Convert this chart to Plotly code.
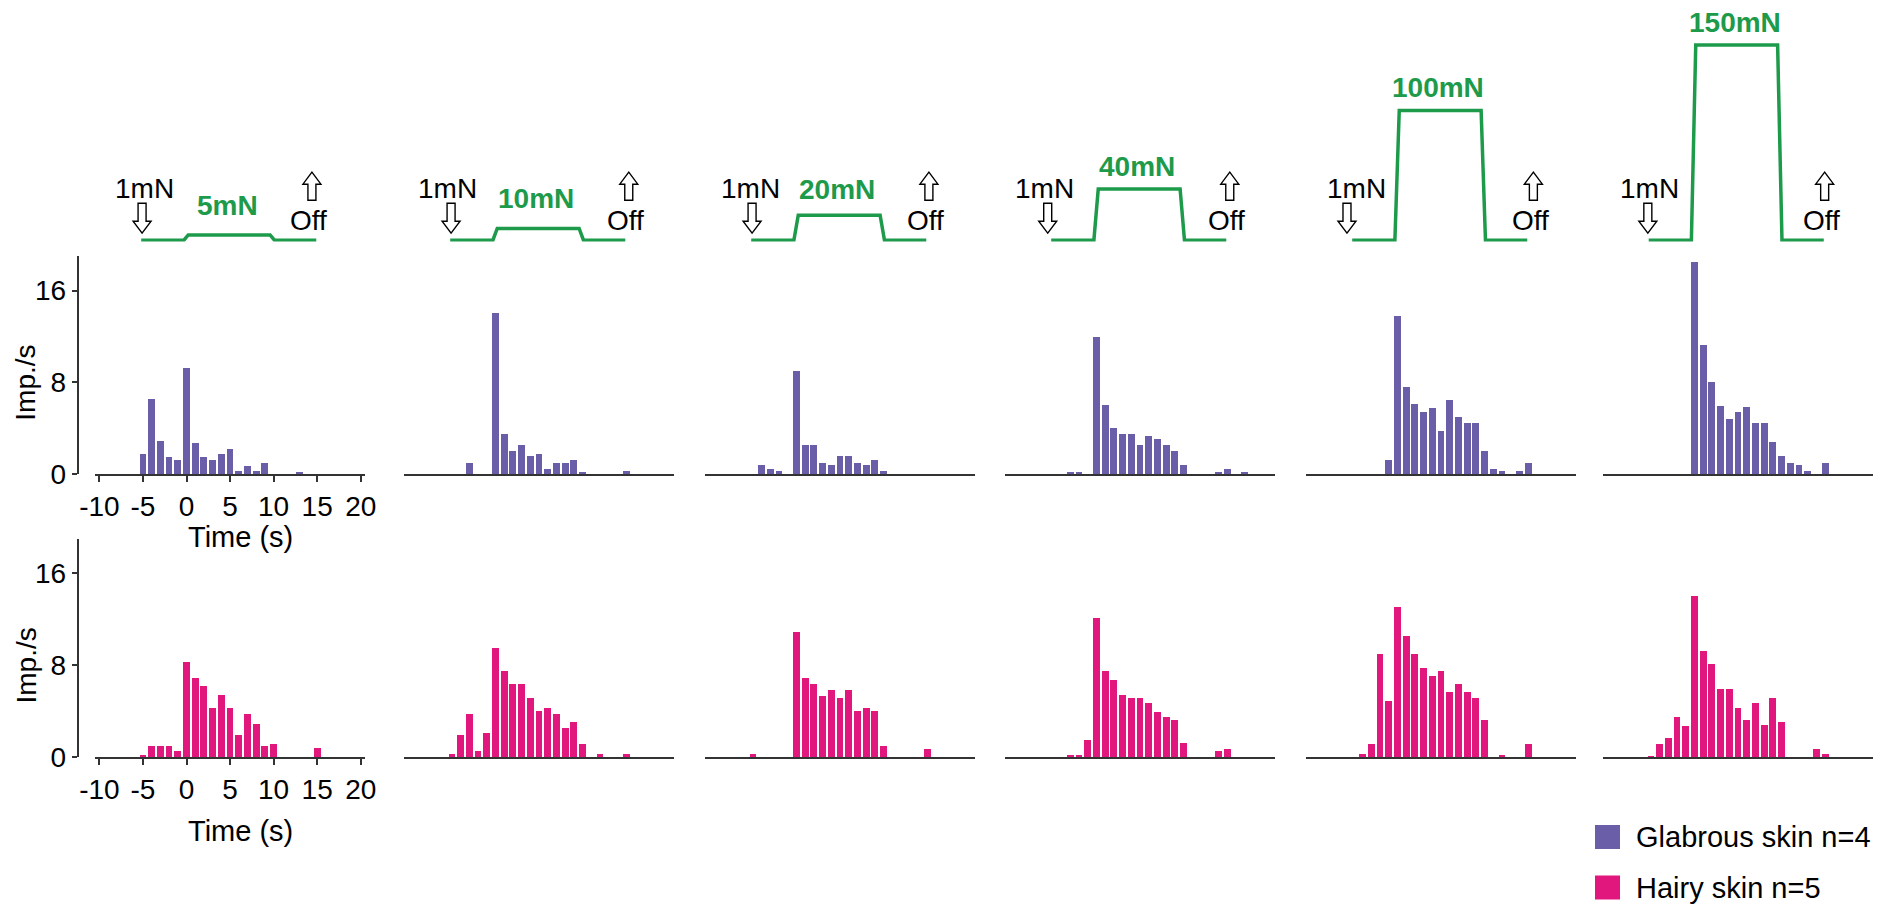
import plotly.graph_objects as go

# ---------------- data ----------------
BINS = list(range(-5, 18))  # 1-s bins, centre times (s)

force_levels = [5, 10, 20, 40, 100, 150]          # mN, plateau of each ramp
force_labels = ["5mN", "10mN", "20mN", "40mN", "100mN", "150mN"]
baseline_force = 1                                 # mN pre-load
stim_time = [-5.2, -0.3, 0.2, 9.6, 10.1, 14.9]     # s, ramp-and-hold corners

# mean discharge (imp./s) per 1-s bin, bins -5 ... 17
glabrous_5 =   [1.7, 6.5, 2.9, 1.5, 1.2, 9.2, 2.7, 1.5, 1.2, 1.7, 2.2, 0.2, 0.7, 0.2, 0.9, 0, 0, 0, 0.15, 0, 0, 0, 0]
glabrous_10 =  [0, 0, 0.97, 0, 0, 14.0, 3.5, 1.95, 2.5, 1.56, 1.75, 0.39, 0.9, 0.9, 1.2, 0.17, 0, 0, 0, 0, 0.2, 0, 0]
glabrous_20 =  [0, 0.77, 0.39, 0.2, 0, 9.0, 2.5, 2.5, 0.94, 0.74, 1.53, 1.53, 0.94, 0.74, 1.2, 0.2, 0, 0, 0, 0, 0, 0, 0]
glabrous_40 =  [0, 0, 0.17, 0.17, 0, 11.9, 6.0, 4.0, 3.5, 3.5, 2.5, 3.3, 3.0, 2.55, 1.95, 0.74, 0, 0, 0, 0.17, 0.39, 0, 0.17]
glabrous_100 = [0, 0, 0, 0, 1.18, 13.8, 7.6, 6.1, 5.4, 5.7, 3.7, 6.4, 4.95, 4.4, 4.4, 2.0, 0.45, 0.2, 0, 0.2, 0.97, 0, 0]
glabrous_150 = [0, 0, 0, 0, 0, 18.5, 11.2, 8.0, 5.95, 4.75, 5.4, 5.8, 4.45, 4.45, 2.75, 1.56, 0.94, 0.74, 0.2, 0, 0.94, 0, 0]

hairy_5 =   [0.2, 1.0, 1.0, 1.0, 0.6, 8.3, 6.9, 6.2, 4.3, 5.4, 4.3, 2.0, 3.8, 2.9, 1.0, 1.2, 0, 0, 0, 0, 0.8, 0, 0]
hairy_10 =  [0.3, 1.97, 3.75, 0.53, 2.13, 9.5, 7.5, 6.35, 6.35, 5.2, 4.05, 4.3, 3.75, 2.6, 3.1, 1.18, 0, 0.3, 0, 0, 0.3, 0, 0]
hairy_20 =  [0.3, 0, 0, 0, 0, 10.95, 6.9, 6.35, 5.35, 5.9, 5.2, 5.9, 4.05, 4.3, 4.05, 0.97, 0, 0, 0, 0, 0.76, 0, 0]
hairy_40 =  [0, 0, 0.2, 0.2, 1.5, 12.1, 7.55, 6.7, 5.4, 5.2, 5.2, 4.75, 3.95, 3.5, 3.3, 1.24, 0, 0, 0, 0.53, 0.76, 0, 0]
hairy_100 = [0, 0.3, 1.18, 9.0, 4.95, 13.1, 10.6, 9.0, 7.75, 7.1, 7.5, 5.7, 6.35, 5.7, 5.2, 3.3, 0, 0.2, 0, 0, 1.18, 0, 0]
hairy_150 = [0.15, 1.18, 1.7, 3.5, 2.76, 14.05, 9.3, 8.1, 5.95, 5.95, 4.3, 3.3, 4.75, 2.85, 5.2, 3.1, 0, 0, 0, 0.73, 0.32, 0, 0]

glabrous = [glabrous_5, glabrous_10, glabrous_20, glabrous_40, glabrous_100, glabrous_150]
hairy = [hairy_5, hairy_10, hairy_20, hairy_40, hairy_100, hairy_150]

time_ticks = [-10, -5, 0, 5, 10, 15, 20]
time_tick_text = ["-10", "-5", "0", "5", "10", "15", "20"]
rate_ticks = [0, 8, 16]

# ---------------- style ----------------
W, H = 1887, 905
FONT = "Liberation Sans, Arial, Helvetica, sans-serif"
PURPLE = "#6a5ea8"
PINK = "#e2177e"
GREEN = "#1d9a4a"
AXIS = "#333333"

col_zero_px = [186.5, 495.5, 796.5, 1096.5, 1397.5, 1694.0]   # x pixel of t=0 per column
X_RANGE = [-10.5, 20.5]
PX_PER_S = 8.71


def px_x(p):
    return p / W


def px_y(p):
    return 1 - p / H


top_dom = [px_y(474), px_y(474 - 19 * 11.46)]
bot_dom = [px_y(757), px_y(757 - 19 * 11.5)]
stim_dom = [px_y(241.5), px_y(241.5 - 160 * 1.31)]

fig = go.Figure()
layout = dict(
    width=W, height=H, margin=dict(l=0, r=0, t=0, b=0, pad=0, autoexpand=False),
    paper_bgcolor="white", plot_bgcolor="rgba(0,0,0,0)",
    showlegend=False, bargap=0,
    font=dict(family=FONT, color="black", size=27),
)
annotations = []
shapes = []

# hollow block arrows, pixel offsets from the 1 mN level of the trace
down_arrow = "M0,7 L9,19 L4,19 L4,37 L-4,37 L-4,19 L-9,19 Z"
up_arrow = "M0,68 L9,56 L4,56 L4,40 L-4,40 L-4,56 L-9,56 Z"
label_lift = [12, 12, 8, 5, 5, 5]
on_x = [-5.1, -5.1, -5.1, -5.6, -5.8, -5.3]
off_x = [14.4, 15.3, 15.2, 15.3, 15.6, 15.0]
on_label_dx = [2, -4, -2, -3, 10, 2]

for i in range(6):
    c = col_zero_px[i]
    xd = [px_x(c + X_RANGE[0] * PX_PER_S), px_x(c + X_RANGE[1] * PX_PER_S)]
    n_s, n_t, n_b = 3 * i + 1, 3 * i + 2, 3 * i + 3
    first = i == 0

    # stimulus protocol axis
    layout[f"xaxis{n_s}"] = dict(domain=xd, range=X_RANGE, visible=False, anchor=f"y{n_s}")
    layout[f"yaxis{n_s}"] = dict(domain=stim_dom, range=[0, 160], visible=False, anchor=f"x{n_s}")
    fig.add_trace(go.Scatter(
        x=stim_time,
        y=[baseline_force, baseline_force, force_levels[i], force_levels[i], baseline_force, baseline_force],
        mode="lines", line=dict(color=GREEN, width=3.5),
        xaxis=f"x{n_s}", yaxis=f"y{n_s}", cliponaxis=False, hoverinfo="skip"))

    annotations.append(dict(
        text=f"<b>{force_labels[i]}</b>", x=4.7, y=force_levels[i], xref=f"x{n_s}", yref=f"y{n_s}",
        xanchor="center", yanchor="bottom", yshift=label_lift[i], showarrow=False,
        font=dict(size=28, color=GREEN, family=FONT)))
    annotations.append(dict(
        text="1mN", x=on_x[i], y=baseline_force, xref=f"x{n_s}", yref=f"y{n_s}",
        xanchor="center", yanchor="middle", yshift=52, xshift=on_label_dx[i], showarrow=False,
        font=dict(size=28, family=FONT)))
    annotations.append(dict(
        text="Off", x=off_x[i], y=baseline_force, xref=f"x{n_s}", yref=f"y{n_s}",
        xanchor="center", yanchor="middle", yshift=20, xshift=-3, showarrow=False,
        font=dict(size=28, family=FONT)))
    for path, ax_x in ((down_arrow, on_x[i]), (up_arrow, off_x[i])):
        shapes.append(dict(
            type="path", path=path, xref=f"x{n_s}", yref=f"y{n_s}",
            xsizemode="pixel", ysizemode="pixel", xanchor=ax_x, yanchor=baseline_force,
            line=dict(color="black", width=1.4), fillcolor="white"))

    # histograms
    for n, dom, vals, colr in ((n_t, top_dom, glabrous[i], PURPLE), (n_b, bot_dom, hairy[i], PINK)):
        xa = dict(domain=xd, range=X_RANGE, anchor=f"y{n}", showgrid=False, zeroline=False,
                  showline=True, linecolor=AXIS, linewidth=2, automargin=False)
        if first:
            xa.update(ticks="outside", ticklen=6, tickwidth=1.5, tickcolor=AXIS,
                      tickvals=time_ticks, ticktext=time_tick_text,
                      tickfont=dict(size=28, family=FONT, color="black"))
        else:
            xa.update(showticklabels=False, ticks="")
        ya = dict(domain=dom, range=[0, 19], showgrid=False, zeroline=False, automargin=False)
        if first:
            ya.update(anchor="free", position=px_x(77.5), showline=True, linecolor=AXIS, linewidth=1.5,
                      ticks="outside", ticklen=5, tickwidth=1.5, tickcolor=AXIS, tickvals=rate_ticks,
                      tickfont=dict(size=28, family=FONT, color="black"))
        else:
            ya.update(visible=False, anchor=f"x{n}")
        layout[f"xaxis{n}"] = xa
        layout[f"yaxis{n}"] = ya
        fig.add_trace(go.Bar(x=BINS, y=vals, width=0.78, marker=dict(color=colr, line=dict(width=0)),
                             xaxis=f"x{n}", yaxis=f"y{n}", hoverinfo="skip"))

# axis titles of the first column
for yc in (382.7, 665.5):
    annotations.append(dict(text="Imp./s", x=px_x(26), y=px_y(yc), xref="paper", yref="paper",
                            xanchor="center", yanchor="middle", textangle=-90, showarrow=False,
                            font=dict(size=28, family=FONT)))
for yc in (537, 831):
    annotations.append(dict(text="Time (s)", x=px_x(241), y=px_y(yc), xref="paper", yref="paper",
                            xanchor="center", yanchor="middle", showarrow=False,
                            font=dict(size=29, family=FONT)))

# legend
legend_items = [("Glabrous skin n=4", PURPLE, 837), ("Hairy skin n=5", PINK, 887.5)]
for name, colr, yc in legend_items:
    shapes.append(dict(type="rect", xref="paper", yref="paper",
                       x0=px_x(1595), x1=px_x(1620), y0=px_y(yc + 12), y1=px_y(yc - 12),
                       fillcolor=colr, line=dict(width=0)))
    annotations.append(dict(text=name, x=px_x(1634), y=px_y(yc), xref="paper", yref="paper",
                            xanchor="left", yanchor="middle", showarrow=False,
                            font=dict(size=29, family=FONT)))

layout["annotations"] = annotations
layout["shapes"] = shapes
fig.update_layout(**layout)
fig.write_html("out.html")
